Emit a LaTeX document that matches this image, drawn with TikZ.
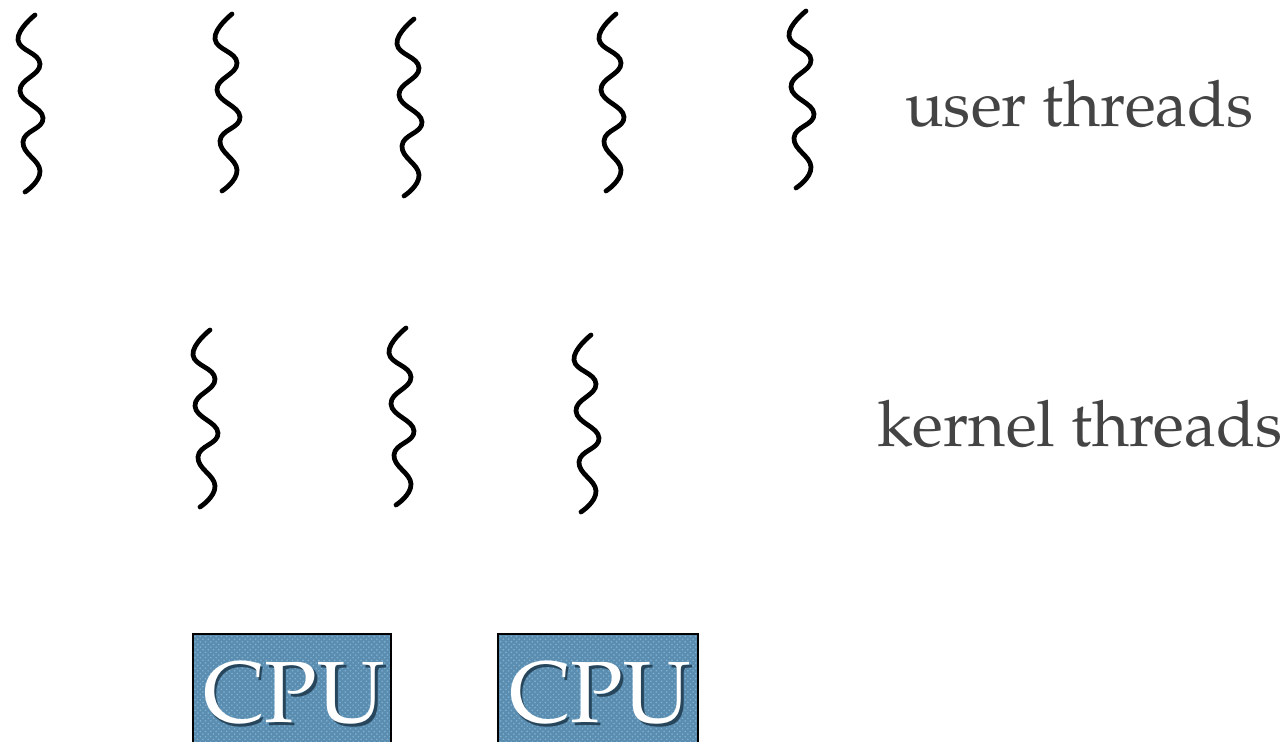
\documentclass[tikz,border=0pt]{standalone}
\usepackage[T1]{fontenc}
\usepackage{mathpazo}
\usetikzlibrary{patterns}
\definecolor{labelgray}{HTML}{444444}
\definecolor{cpublue}{HTML}{5A8DB0}
\definecolor{cpudot}{HTML}{80B1D1}
\definecolor{cpushade}{HTML}{27465C}
\newcommand{\shadowed}[1]{%
  \makebox[0pt][l]{\hspace{1.6pt}\raisebox{-2pt}{\textcolor{cpushade}{#1}}}%
  \textcolor{white}{#1}}
\tikzset{
  thread/.pic={
    \draw[line width=2.7pt, line cap=round, line join=round]
      plot[smooth, tension=0.8] coordinates
      {(0,0) (-17,25) (5,49) (-15,76) (8,103) (-12,127) (5,156) (-10,177)};
  },
  caption/.style={text=labelgray, font=\fontsize{36.4}{42}\selectfont, anchor=base west, inner sep=0pt},
  cpubox/.style={draw=black, line width=1.4pt},
  cputext/.style={font=\fontsize{49.5}{56}\selectfont, inner sep=0pt, anchor=base}
}
\begin{document}
\begin{tikzpicture}[x=0.02cm, y=-0.02cm]
  \clip (0,0) rectangle (1287,742);
  \fill[white] (0,0) rectangle (1287,742);

  % user-level threads
  \pic at (35,15)  {thread};
  \pic at (232,14) {thread};
  \pic at (414,19) {thread};
  \pic at (616,14) {thread};
  \pic at (806,11) {thread};
  \node[caption] (user) at (905,127) {user threads};

  % kernel-level threads
  \pic at (210,330) {thread};
  \pic at (406,328) {thread};
  \pic at (591,335) {thread};
  \node[caption] (kernel) at (877,447) {kernel threads};

  % processors
  \foreach \name/\xa/\xb in {cpuA/193/391, cpuB/498/698}{
    \fill[cpublue] (\xa,634) rectangle (\xb,760);
    \fill[pattern=crosshatch dots, pattern color=cpudot] (\xa,634) rectangle (\xb,760);
    \draw[cpubox] (\xa,634) rectangle (\xb,760);
    \node[cputext] (\name) at ({(\xa+\xb)/2+2},722) {\shadowed{CPU}};
  }
\end{tikzpicture}
\end{document}
